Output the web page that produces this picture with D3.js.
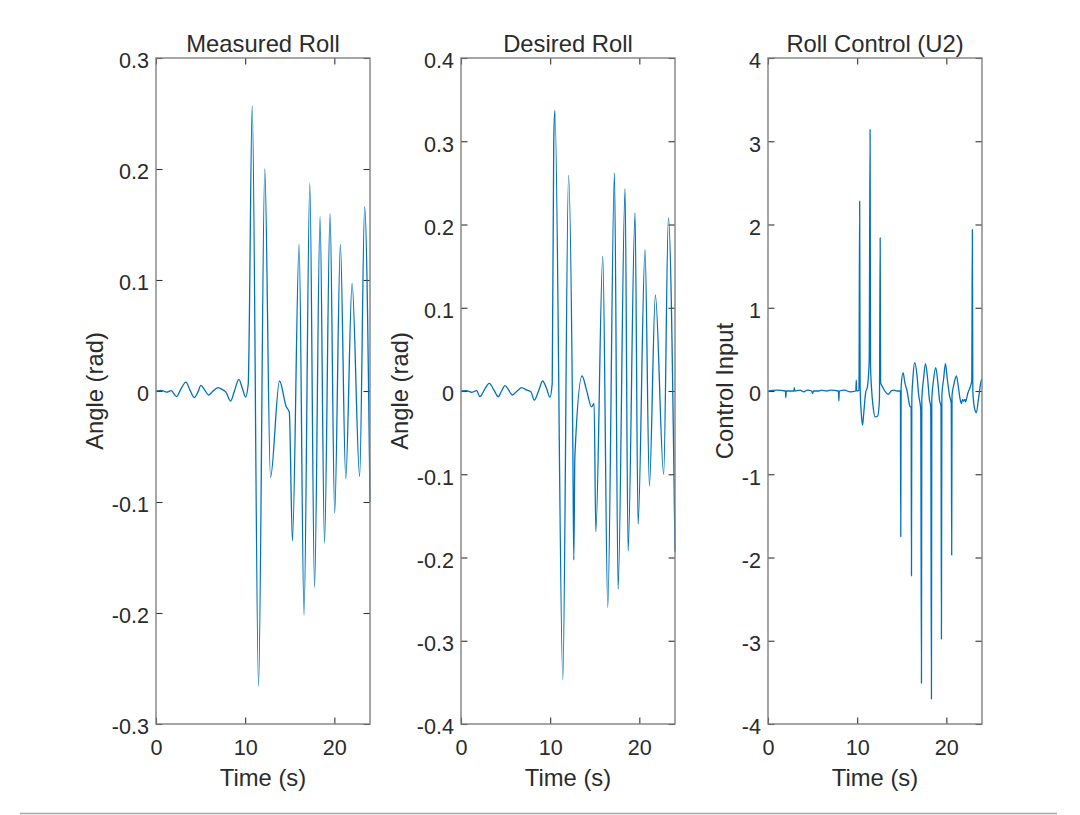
<!DOCTYPE html>
<html>
<head>
<meta charset="utf-8">
<script src="https://cdn.jsdelivr.net/npm/d3@7"></script>
<style>
  body { margin: 0; background: #fff; }
  svg { display: block; }
  text { font-family: "Liberation Sans", Arial, Helvetica, sans-serif; }
</style>
</head>
<body>
<svg id="fig" width="1080" height="815"></svg>
<script>
// values: [time (s), value]
const measuredRoll = [
  [0, 0], [0.6, 0.0005], [1.2, -0.001], [1.7, 0.0004], [2.3, -0.005], [2.8, 0.002],
  [3.36, 0.008], [3.8, 0.001], [4.3, -0.006], [4.7, -0.001], [5.04, 0.005], [5.45, 0.001],
  [5.9, -0.0036], [6.4, 0.0], [6.98, 0.003], [7.5, 0.001], [7.84, -0.001], [8.36, -0.009],
  [8.8, 0.0], [9.29, 0.0105], [9.7, 0.002], [10.04, -0.0054], [10.34, 0.006], [10.79, 0.257],
  [11.5, -0.266], [12.2, 0.200], [12.84, -0.078], [13.85, 0.009], [14.6, -0.014], [14.95, -0.019],
  [15.3, -0.135], [16.05, 0.132], [16.6, -0.202], [17.25, 0.187], [17.78, -0.177], [18.4, 0.157],
  [18.9, -0.137], [19.52, 0.160], [20.04, -0.110], [20.68, 0.132], [21.28, -0.079], [21.99, 0.097],
  [22.84, -0.077], [23.4, 0.166], [24, -0.100]
];

const desiredRoll = [
  [0, 0], [0.6, 0.0005], [1.2, -0.0016], [1.75, 0.0004], [2.13, -0.0068], [2.65, 0.002],
  [3.17, 0.0092], [3.7, 0.001], [4.18, -0.0068], [4.55, 0.0], [4.93, 0.0064], [5.35, 0.001],
  [5.75, -0.0048], [6.3, 0.0], [6.8, 0.004], [7.4, 0.001], [7.84, -0.0008], [8.21, -0.011],
  [8.7, 0.0], [9.15, 0.012], [9.6, 0.003], [9.97, -0.0076], [10.23, 0.0092], [10.4, 0.30],
  [10.53, 0.337], [11.42, -0.347], [12.06, 0.259], [12.54, -0.063], [12.65, -0.203], [12.77, -0.079],
  [13.58, 0.018], [14.08, 0.001], [14.64, -0.019], [14.93, -0.015], [15.12, -0.169], [15.9, 0.162],
  [16.46, -0.260], [17.21, 0.262], [17.62, -0.238], [18.4, 0.243], [18.74, -0.192], [19.52, 0.214],
  [19.86, -0.160], [20.64, 0.170], [21.13, -0.114], [21.8, 0.115], [22.73, -0.100], [23.26, 0.208],
  [24, -0.193]
];

const rollControl = [
  [0, 0], [1.0, 0.01], [1.95, 0.0], [2.0, -0.08], [2.05, 0.0], [2.9, 0.0], [2.95, 0.04], [3.0, 0.0],
  [3.6, 0.01], [4.0, -0.01], [4.4, 0.01], [4.9, 0.0], [5.0, -0.03], [5.1, 0.0], [5.7, 0.0], [6.0, 0.01],
  [6.6, 0.0], [7.0, 0.01], [7.9, 0.0], [7.95, -0.12], [8.0, 0.0], [8.6, 0.01], [9.2, -0.01], [9.85, 0.0],
  [9.9, 0.13], [9.95, 0.0], [10.2, 0.01], [10.28, 2.28], [10.33, 0.05], [10.45, -0.25], [10.6, -0.41],
  [10.75, -0.25], [10.95, -0.02], [11.15, 0.05], [11.35, 0.36], [11.45, 3.14], [11.5, 0.3], [11.6, 0.05],
  [11.8, -0.2], [12.0, -0.31], [12.3, -0.3], [12.5, -0.1], [12.58, 1.84], [12.63, 0.1], [12.85, 0.05],
  [13.1, 0.0], [13.5, -0.04], [13.8, 0.0], [14.1, 0.01], [14.5, 0.0], [14.85, 0.0], [14.89, -1.75],
  [14.93, 0.05], [15.15, 0.22], [15.35, 0.1], [15.6, 0.0], [15.9, -0.18], [16.05, -0.2], [16.09, -2.22],
  [16.13, -0.1], [16.25, 0.15], [16.46, 0.34], [16.7, 0.2], [16.9, -0.05], [17.13, -0.22], [17.21, -3.51],
  [17.25, -0.1], [17.45, 0.15], [17.66, 0.33], [17.9, 0.15], [18.1, -0.1], [18.25, -0.2], [18.33, -3.70],
  [18.37, -0.1], [18.55, 0.12], [18.81, 0.28], [19.05, 0.1], [19.25, -0.12], [19.4, -0.18], [19.45, -2.98],
  [19.5, -0.05], [19.7, 0.15], [19.9, 0.33], [20.1, 0.15], [20.35, -0.05], [20.55, -0.15], [20.6, -1.97],
  [20.64, -0.05], [20.85, 0.08], [21.13, 0.18], [21.35, 0.05], [21.55, -0.1], [21.69, -0.15], [21.82, -0.1],
  [21.95, -0.12], [22.1, -0.1], [22.17, -0.13], [22.4, -0.03], [22.62, 0.03], [22.85, 0.12], [22.92, 1.94],
  [22.97, 0.0], [23.15, -0.2], [23.37, -0.26], [23.6, -0.1], [23.93, 0.13], [24, 0.14]
];

const timeTicks = [0, 10, 20];
const rollTicks = [-0.3, -0.2, -0.1, 0, 0.1, 0.2, 0.3];
const desiredTicks = [-0.4, -0.3, -0.2, -0.1, 0, 0.1, 0.2, 0.3, 0.4];
const controlTicks = [-4, -3, -2, -1, 0, 1, 2, 3, 4];

const titles = ["Measured Roll", "Desired Roll", "Roll Control (U2)"];
const yLabels = ["Angle (rad)", "Angle (rad)", "Control Input"];
const xLabel = "Time (s)";

const panels = [
  { data: measuredRoll, yDomain: [-0.3, 0.3], yTicks: rollTicks },
  { data: desiredRoll, yDomain: [-0.4, 0.4], yTicks: desiredTicks },
  { data: rollControl, yDomain: [-4, 4], yTicks: controlTicks }
];

// layout
const lefts = [156, 461, 768];
const plotTop = 58;
const plotW = 214;
const plotH = 666;
const tickLen = 6.5;
const tickFont = "21.6px";
const labelFont = "23.8px";
const ink = "#2b2b2b";

const svg = d3.select("#fig");

panels.forEach((p, i) => {
  const x = d3.scaleLinear().domain([0, 24]).range([0, plotW]);
  const y = d3.scaleLinear().domain(p.yDomain).range([plotH, 0]);

  const g = svg.append("g").attr("transform", `translate(${lefts[i]},${plotTop})`);

  const left = g.append("g")
    .call(d3.axisLeft(y).tickValues(p.yTicks).tickSize(-tickLen).tickPadding(7).tickFormat(d => String(d)));
  const right = g.append("g").attr("transform", `translate(${plotW},0)`)
    .call(d3.axisRight(y).tickValues(p.yTicks).tickSize(-tickLen).tickFormat(""));
  const bottom = g.append("g").attr("transform", `translate(0,${plotH})`)
    .call(d3.axisBottom(x).tickValues(timeTicks).tickSize(-tickLen).tickFormat(d => String(d)));
  const top = g.append("g")
    .call(d3.axisTop(x).tickValues(timeTicks).tickSize(-tickLen).tickFormat(""));

  [left, right, bottom, top].forEach(a => {
    a.select(".domain").remove();
    a.attr("font-family", null).attr("font-size", null);
    a.selectAll("line").attr("stroke", "#333").attr("stroke-width", 1.1);
    a.selectAll("text").attr("fill", ink).style("font-size", tickFont);
  });
  left.selectAll("text").attr("dy", "0.46em");
  bottom.selectAll("text").attr("y", 30.5).attr("dy", null);

  // data line
  const line = d3.line()
    .x(d => x(d[0]))
    .y(d => y(d[1]))
    .curve(d3.curveMonotoneX);

  g.append("path")
    .datum(p.data)
    .attr("fill", "none")
    .attr("stroke", "#0072BD")
    .attr("stroke-width", 1.3)
    .attr("stroke-linejoin", "round")
    .attr("d", line);

  // axes box
  g.append("rect")
    .attr("width", plotW)
    .attr("height", plotH)
    .attr("fill", "none")
    .attr("stroke", "#808080")
    .attr("stroke-width", 1.4);

  // title
  g.append("text")
    .attr("x", plotW / 2)
    .attr("y", -6.3)
    .attr("text-anchor", "middle")
    .attr("fill", ink)
    .style("font-size", labelFont)
    .text(titles[i]);

  // x label
  g.append("text")
    .attr("x", plotW / 2)
    .attr("y", plotH + 62)
    .attr("text-anchor", "middle")
    .attr("fill", ink)
    .style("font-size", labelFont)
    .text(xLabel);

  // y label sits just left of the widest tick label
  const maxW = d3.max(left.selectAll("text").nodes(), n => n.getComputedTextLength());
  g.append("text")
    .attr("transform", `translate(${-(maxW + 16)},${plotH / 2}) rotate(-90)`)
    .attr("text-anchor", "middle")
    .attr("fill", ink)
    .style("font-size", labelFont)
    .text(yLabels[i]);
});

// thin rule along the bottom edge of the capture
svg.append("line")
  .attr("x1", 20).attr("x2", 1057)
  .attr("y1", 813.5).attr("y2", 813.5)
  .attr("stroke", "#a8a8a8")
  .attr("stroke-width", 1.5);
</script>
</body>
</html>
